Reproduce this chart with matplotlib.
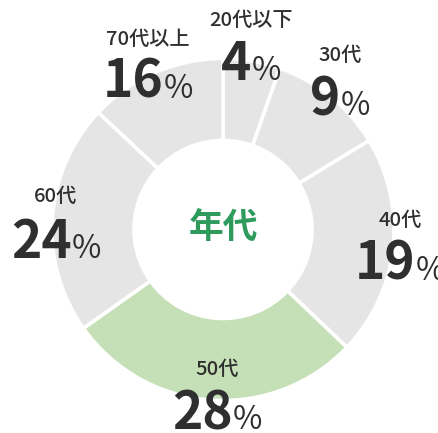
import matplotlib
matplotlib.use("Agg")
import matplotlib.pyplot as plt

# Data (slice sizes as drawn, label percentages as printed)
categories = ["20代以下", "30代", "40代", "50代", "60代", "70代以上"]
slice_sizes = [5.4, 10.9, 20.8, 28.1, 21.8, 13.0]
pct_labels = [4, 9, 19, 28, 24, 16]
highlight = "50代"
center_title = "年代"

W, H = 439, 433
fig = plt.figure(figsize=(W / 100, H / 100), dpi=100)
ax = fig.add_axes([0, 0, 1, 1])

FONT = ["Noto Sans CJK JP", "DejaVu Sans"]
GRAY = "#e5e5e5"
GREEN = "#c5e0b6"
TXT = "#2f2f2f"

colors = [GREEN if c == highlight else GRAY for c in categories]
cx, cy = 223, H - 229.5
ax.pie(slice_sizes, colors=colors, startangle=90, counterclock=False,
       center=(cx, cy), radius=171,
       wedgeprops=dict(width=82, edgecolor="white", linewidth=2.6))
ax.set_xlim(0, W)
ax.set_ylim(0, H)
ax.set_aspect("equal")
ax.axis("off")

# label placement in pixel coords (x center, name baseline y, number baseline y)
label_pos = {
    "20代以下": (251, 26, 80),
    "30代": (340, 61, 115),
    "40代": (400, 226, 280),
    "50代": (217, 375, 429),
    "60代": (56, 202, 258),
    "70代以上": (148, 45, 98),
}

renderer = fig.canvas.get_renderer()
for cat, pct in zip(categories, pct_labels):
    x, yn, yb = label_pos[cat]
    ax.text(x, H - yn, cat, ha="center", va="baseline", fontsize=14.5,
            fontweight="medium", color=TXT, family=FONT)
    t1 = ax.text(0, H - yb, str(pct), ha="left", va="baseline", fontsize=37,
                 fontweight="bold", color=TXT, family=FONT)
    t2 = ax.text(0, H - yb, "%", ha="left", va="baseline", fontsize=23,
                 fontweight="normal", color=TXT, family=FONT)
    w1 = t1.get_window_extent(renderer).width
    w2 = t2.get_window_extent(renderer).width
    x0 = x - (w1 + w2) / 2
    t1.set_x(x0)
    t2.set_x(x0 + w1)

ax.text(cx, H - 228, center_title, ha="center", va="center", fontsize=25,
        fontweight="bold", color="#2e9a5c", family=FONT)

fig.savefig("out.png", dpi=100)
